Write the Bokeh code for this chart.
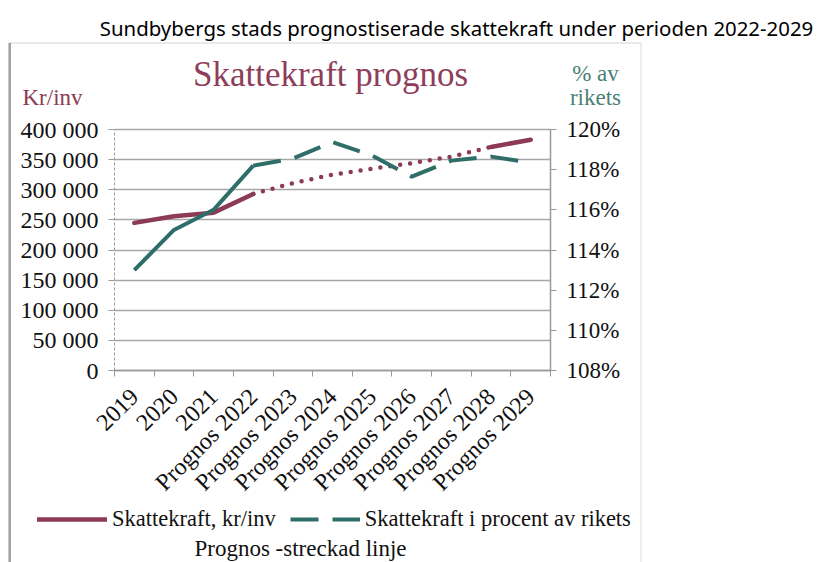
import numpy as np
from bokeh.plotting import figure
from bokeh.models import (Range1d, LinearAxis, FixedTicker, Label, Legend,
                          LegendItem, BoxAnnotation, Grid)
from bokeh.embed import file_html
from bokeh.resources import INLINE

# ---------------- data ----------------
categories = ["2019", "2020", "2021", "Prognos 2022", "Prognos 2023", "Prognos 2024",
              "Prognos 2025", "Prognos 2026", "Prognos 2027", "Prognos 2028", "Prognos 2029"]
kr_inv = [245000, 256000, 262000, 293000, 311000, 325000, 335000, 344000, 355000, 371000, 383000]
pct_riket = [113.0, 115.0, 116.0, 118.2, 118.55, 119.37, 118.7, 117.65, 118.45, 118.65, 118.35]
left_ticks = [0, 50000, 100000, 150000, 200000, 250000, 300000, 350000, 400000]
right_ticks = [108, 110, 112, 114, 116, 118, 120]

MAROON = "#8c3a55"
TEAL = "#2f6e68"
TITLE_MAROON = "#8e3d5a"
TEAL_TEXT = "#4a7f77"
GRID = "#a6a6a6"
AXIS = "#999999"
BOX = "#a3a3a3"
SERIF = "Liberation Serif"

# ---------------- layout geometry (pixels) ----------------
W, H = 826, 562
FL, FR, FT, FB = 114, 550, 129, 370          # chart area in page pixels
n = len(categories)
x_lo, x_hi = -0.5, n - 0.5
y_lo, y_hi = left_ticks[0], left_ticks[-1]
p_lo, p_hi = right_ticks[0], right_ticks[-1]

xu = (FR - FL) / (x_hi - x_lo)               # px per category
yu = (FB - FT) / (y_hi - y_lo)               # px per kr
pu = (FB - FT) / (p_hi - p_lo)               # px per percent

x_range = Range1d(x_lo - FL / xu, x_hi + (W - FR) / xu)
y_range = Range1d(y_lo - (H - FB) / yu, y_hi + FT / yu)
pct_range = Range1d(p_lo - (H - FB) / pu, p_hi + FT / pu)

def X(px):
    return x_lo + (px - FL) / xu

def Y(py):
    return y_lo + (FB - py) / yu

# ---------------- figure ----------------
p = figure(width=W, height=H, x_range=x_range, y_range=y_range,
           output_backend="svg", toolbar_location=None, x_axis_location=None,
           y_axis_location=None, min_border=0)
p.outline_line_color = None
p.xgrid.visible = False
p.ygrid.visible = False
p.extra_y_ranges = {"pct": pct_range}

# left axis (fixed at the left edge of the chart area)
ya = LinearAxis(ticker=FixedTicker(ticks=left_ticks), fixed_location=x_lo, bounds=(y_lo, y_hi))
ya.major_label_overrides = {t: f"{t:,}".replace(",", " ") for t in left_ticks}
ya.major_label_text_font = SERIF
ya.major_label_text_font_size = "24px"
ya.major_label_text_color = "#111111"
ya.axis_line_color = AXIS
ya.axis_line_dash = "3 2"
ya.axis_line_width = 1
ya.major_tick_in = 0
ya.major_tick_out = 6
ya.major_tick_line_color = AXIS
ya.minor_tick_line_color = None
ya.major_label_standoff = 10
p.add_layout(ya, "left")

# horizontal grid
grid = Grid(dimension=1, ticker=FixedTicker(ticks=left_ticks), grid_line_color=GRID,
            grid_line_width=1.5)
if "cross_bounds" in grid.properties():
    grid.cross_bounds = (x_lo, x_hi)
    grid.bounds = (y_lo, y_hi)
    p.add_layout(grid)
else:
    p.segment(x0=[x_lo] * len(left_ticks), x1=[x_hi] * len(left_ticks), y0=left_ticks,
              y1=left_ticks, line_color=GRID, line_width=1.5, level="underlay")

# bottom axis
x = list(range(n))
xa = LinearAxis(fixed_location=y_lo, bounds=(x_lo, x_hi),
                ticker=FixedTicker(ticks=x, minor_ticks=[i - 0.5 for i in range(n + 1)]))
xa.major_label_overrides = {i: c for i, c in zip(x, categories)}
xa.major_label_orientation = np.pi / 4
xa.major_label_text_font = SERIF
xa.major_label_text_font_size = "24px"
xa.major_label_text_color = "#111111"
xa.major_tick_line_color = None
xa.minor_tick_in = 0
xa.minor_tick_out = 6
xa.minor_tick_line_color = AXIS
xa.axis_line_color = AXIS
xa.axis_line_width = 1.5
xa.major_label_standoff = 16
p.add_layout(xa, "below")

# right axis
ra = LinearAxis(y_range_name="pct", ticker=FixedTicker(ticks=right_ticks),
                fixed_location=x_hi, bounds=(p_lo, p_hi))
ra.major_label_overrides = {t: f"{t}%" for t in right_ticks}
ra.major_label_text_font = SERIF
ra.major_label_text_font_size = "23px"
ra.major_label_text_color = "#111111"
ra.axis_line_color = AXIS
ra.axis_line_width = 1.5
ra.major_tick_in = 0
ra.major_tick_out = 6
ra.major_tick_line_color = AXIS
ra.minor_tick_line_color = None
ra.major_label_standoff = 10
p.add_layout(ra, "right")

# ---------------- lines ----------------
r_kr1 = p.line(x[0:4], kr_inv[0:4], line_color=MAROON, line_width=4.5, line_cap="round")
r_kr_dot = p.line(x[3:10], kr_inv[3:10], line_color=MAROON, line_width=4.5,
                  line_dash="0 10", line_cap="round")
r_kr2 = p.line(x[9:11], kr_inv[9:11], line_color=MAROON, line_width=4.5, line_cap="round")

r_pct1 = p.line(x[0:4], pct_riket[0:4], y_range_name="pct", line_color=TEAL, line_width=4,
                line_join="round")
r_pct_dash = p.line(x[3:11], pct_riket[3:11], y_range_name="pct", line_color=TEAL,
                    line_width=4, line_dash="28 14")

# ---------------- legend ----------------
legend = Legend(items=[LegendItem(label="Skattekraft, kr/inv", renderers=[r_kr1]),
                       LegendItem(label="Skattekraft i procent av rikets", renderers=[r_pct_dash])],
                orientation="horizontal", location=(37, H - 532),
                label_text_font=SERIF, label_text_font_size="22.5px", label_text_color="#111111",
                glyph_width=70, glyph_height=20, label_standoff=5, spacing=14,
                padding=0, margin=0, border_line_color=None, background_fill_alpha=0)
p.add_layout(legend, "center")

# ---------------- texts ----------------
def add_text(px, py, text, font, size, color, align="center"):
    p.add_layout(Label(x=X(px), y=Y(py), text=text, text_font=font, text_font_size=size,
                       text_color=color, text_align=align, text_baseline="middle"))

add_text(456, 27, "Sundbybergs stads prognostiserade skattekraft under perioden 2022-2029",
         "Noto Sans", "20.4px", "#000000")
add_text(330, 74, "Skattekraft prognos", SERIF, "35px", TITLE_MAROON)
add_text(22, 97, "Kr/inv", SERIF, "23px", MAROON, align="left")
add_text(595, 73, "% av", SERIF, "23px", TEAL_TEXT)
add_text(595, 97, "rikets", SERIF, "23px", TEAL_TEXT)
add_text(300, 548, "Prognos -streckad linje", SERIF, "23px", "#111111")

# outer frame box (thin top/right, slightly heavier left edge)
p.add_layout(BoxAnnotation(left=X(8.5), right=X(640.5), top=Y(42.5), bottom=Y(700),
                           fill_alpha=0, line_color=BOX, line_width=1.3))
p.add_layout(BoxAnnotation(left=X(8), right=X(10.5), top=Y(42.5), bottom=Y(700),
                           fill_color=BOX, fill_alpha=1, line_alpha=0))

open("out.html", "w").write(file_html(p, INLINE))
